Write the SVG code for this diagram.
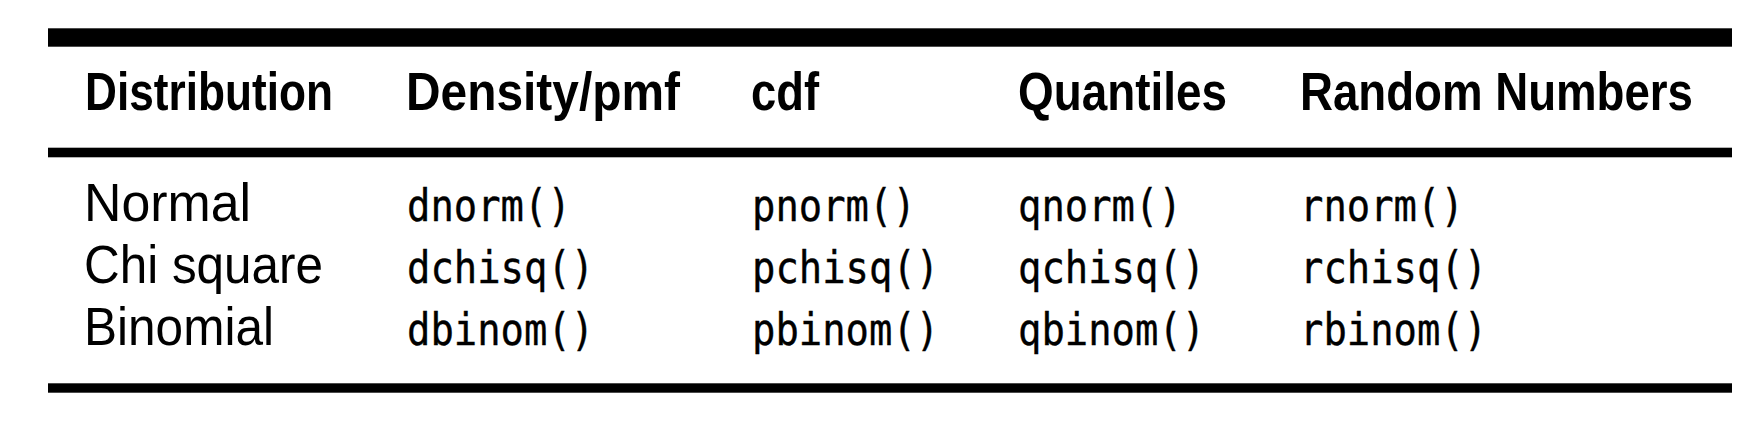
<svg xmlns="http://www.w3.org/2000/svg" width="1764" height="438" viewBox="0 0 1764 438">
<style>
.rule{fill:#000}
.hd{font-family:"Liberation Sans",Arial,sans-serif;font-weight:bold;font-size:53px;fill:#000}
.nm{font-family:"Liberation Sans",Arial,sans-serif;font-size:54px;fill:#000}
.cd{font-family:"DejaVu Sans Mono","Liberation Mono",monospace;font-size:45px;fill:#000;stroke:#000;stroke-width:0.4}
</style>
<rect width="1764" height="438" fill="#fff"/>
<g id="rules">
<rect class="rule" x="48" y="28.3" width="1684" height="18.4"/>
<rect class="rule" x="48" y="147.7" width="1684" height="9.6"/>
<rect class="rule" x="48" y="383.3" width="1684" height="9.4"/>
</g>
<g id="header">
<text class="hd" x="85" y="110" textLength="248" lengthAdjust="spacingAndGlyphs">Distribution</text>
<text class="hd" x="406" y="110" textLength="274" lengthAdjust="spacingAndGlyphs">Density/pmf</text>
<text class="hd" x="751" y="110" textLength="68" lengthAdjust="spacingAndGlyphs">cdf</text>
<text class="hd" x="1018" y="110" textLength="209" lengthAdjust="spacingAndGlyphs">Quantiles</text>
<text class="hd" x="1300" y="110" textLength="393" lengthAdjust="spacingAndGlyphs">Random Numbers</text>
</g>
<g id="row-normal">
<text class="nm" x="84" y="221" textLength="167" lengthAdjust="spacingAndGlyphs">Normal</text>
<text class="cd" x="407" y="221" textLength="163.8" lengthAdjust="spacingAndGlyphs">dnorm()</text>
<text class="cd" x="752" y="221" textLength="163.8" lengthAdjust="spacingAndGlyphs">pnorm()</text>
<text class="cd" x="1018" y="221" textLength="163.8" lengthAdjust="spacingAndGlyphs">qnorm()</text>
<text class="cd" x="1300" y="221" textLength="163.8" lengthAdjust="spacingAndGlyphs">rnorm()</text>
</g>
<g id="row-chisq">
<text class="nm" x="84" y="283" textLength="239" lengthAdjust="spacingAndGlyphs">Chi square</text>
<text class="cd" x="407" y="283" textLength="187.2" lengthAdjust="spacingAndGlyphs">dchisq()</text>
<text class="cd" x="752" y="283" textLength="187.2" lengthAdjust="spacingAndGlyphs">pchisq()</text>
<text class="cd" x="1018" y="283" textLength="187.2" lengthAdjust="spacingAndGlyphs">qchisq()</text>
<text class="cd" x="1300" y="283" textLength="187.2" lengthAdjust="spacingAndGlyphs">rchisq()</text>
</g>
<g id="row-binom">
<text class="nm" x="84" y="345" textLength="190" lengthAdjust="spacingAndGlyphs">Binomial</text>
<text class="cd" x="407" y="345" textLength="187.2" lengthAdjust="spacingAndGlyphs">dbinom()</text>
<text class="cd" x="752" y="345" textLength="187.2" lengthAdjust="spacingAndGlyphs">pbinom()</text>
<text class="cd" x="1018" y="345" textLength="187.2" lengthAdjust="spacingAndGlyphs">qbinom()</text>
<text class="cd" x="1300" y="345" textLength="187.2" lengthAdjust="spacingAndGlyphs">rbinom()</text>
</g>
</svg>
